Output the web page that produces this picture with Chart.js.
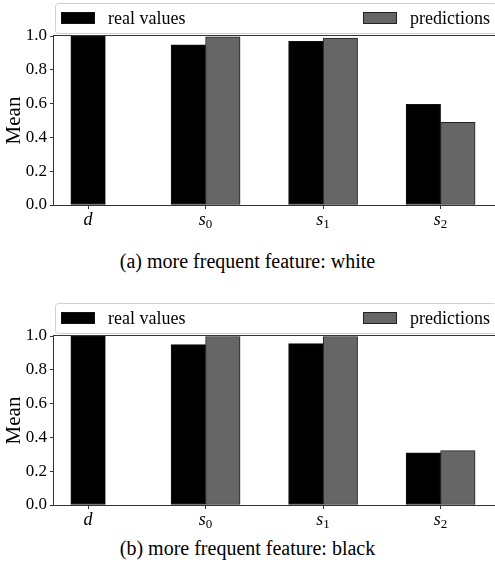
<!DOCTYPE html>
<html>
<head>
<meta charset="utf-8">
<script src="https://cdn.jsdelivr.net/npm/chart.js@4.4.1/dist/chart.umd.min.js"></script>
<style>
  html, body { margin: 0; padding: 0; background: #fff; }
  body { width: 495px; height: 571px; overflow: hidden; position: relative; }
  .fig { position: absolute; left: 0; width: 500px; height: 235px; }
  .caption { position: absolute; left: 0; width: 495px; text-align: center;
             font-family: "Liberation Serif", serif; font-size: 20px; line-height: 22px; color: #000; }
</style>
</head>
<body>
<div class="fig" style="top:0"><canvas id="chartWhite" width="500" height="235"></canvas></div>
<div class="caption" style="top:250px">(a) more frequent feature: white</div>
<div class="fig" style="top:300px"><canvas id="chartBlack" width="500" height="235"></canvas></div>
<div class="caption" style="top:537px">(b) more frequent feature: black</div>
<script>
// x categories and legend names
const categories = ['d', 's₀', 's₁', 's₂'];
const seriesNames = ['real values', 'predictions'];

// (a) more frequent feature: white
const whiteReal = [1.0, 0.948, 0.969, 0.595];
const whitePred = [null, 0.995, 0.988, 0.489];

// (b) more frequent feature: black
const blackReal = [1.0, 0.949, 0.955, 0.308];
const blackPred = [null, 0.997, 0.997, 0.322];

const yTicks = [0.0, 0.2, 0.4, 0.6, 0.8, 1.0];

const serif = 'Liberation Serif';

// axes frame (spines) on top of the bars
const framePlugin = {
  id: 'frame',
  afterDatasetsDraw(chart) {
    const { ctx, chartArea: a } = chart;
    ctx.save();
    ctx.strokeStyle = '#333';
    ctx.lineWidth = 1;
    ctx.strokeRect(Math.round(a.left) - 0.5, Math.round(a.top) - 0.5,
                   Math.round(a.right - a.left) + 1, Math.round(a.bottom - a.top) + 1);
    ctx.restore();
  }
};

// x labels: italic letter with an upright, lowered subscript digit
const mathLabels = {
  id: 'mathLabels',
  afterDraw(chart) {
    const { ctx, chartArea: a } = chart;
    const xs = chart.scales.x;
    const y = a.bottom + 20;
    ctx.save();
    ctx.fillStyle = '#000';
    ctx.textBaseline = 'alphabetic';
    xs.ticks.forEach((t) => {
      const lbl = categories[t.value];
      const last = lbl.charCodeAt(lbl.length - 1);
      let main = lbl, sub = '';
      if (last >= 0x2080 && last <= 0x2089) {
        main = lbl.slice(0, -1);
        sub = String.fromCharCode(last - 0x2080 + 48);
      }
      ctx.font = 'italic 18px "' + serif + '"';
      const wm = ctx.measureText(main).width;
      ctx.font = '13px "' + serif + '"';
      const ws = sub ? ctx.measureText(sub).width : 0;
      const x0 = xs.getPixelForValue(t.value) - (wm + ws) / 2;
      ctx.font = 'italic 18px "' + serif + '"';
      ctx.fillText(main, x0, y);
      if (sub) {
        ctx.font = '13px "' + serif + '"';
        ctx.fillText(sub, x0 + wm, y + 3);
      }
    });
    ctx.restore();
  }
};

// legend box above the axes, two columns spread over the full width
const boxLegend = {
  id: 'boxLegend',
  afterDraw(chart) {
    const { ctx, chartArea: a } = chart;
    const top = 3, h = 30, mid = top + h / 2;
    ctx.save();
    ctx.beginPath();
    ctx.roundRect(a.left + 1.5, top + 0.5, a.right - a.left - 2, h, 3);
    ctx.fillStyle = 'rgba(255,255,255,0.8)';
    ctx.fill();
    ctx.strokeStyle = '#d0d0d0';
    ctx.lineWidth = 1;
    ctx.stroke();
    ctx.font = '18px "' + serif + '"';
    ctx.textBaseline = 'middle';
    const ds = chart.data.datasets;
    const w2 = ctx.measureText(ds[1].label).width;
    const xs = [a.left + 7, a.right - 7 - w2 - 13 - 34];
    ds.forEach((d, i) => {
      ctx.fillStyle = d.backgroundColor;
      ctx.fillRect(xs[i], mid - 6, 34, 12);
      ctx.strokeStyle = d.borderColor;
      ctx.strokeRect(xs[i] + 0.5, mid - 5.5, 33, 11);
      ctx.fillStyle = '#000';
      ctx.fillText(d.label, xs[i] + 47, mid + 1);
    });
    ctx.restore();
  }
};

function makeChart(id, real, pred) {
  return new Chart(document.getElementById(id), {
    type: 'bar',
    data: {
      datasets: [
        {
          label: seriesNames[0],
          data: real.map((v, i) => ({ x: i, y: v })),
          backgroundColor: '#000000',
          borderColor: '#111111'
        },
        {
          label: seriesNames[1],
          data: pred.map((v, i) => ({ x: i, y: v })),
          backgroundColor: '#666666',
          borderColor: '#222222'
        }
      ]
    },
    options: {
      responsive: false,
      animation: false,
      layout: { padding: { top: 36, right: 3, left: 0, bottom: 0 } },
      datasets: { bar: { barThickness: 34.5, skipNull: true, borderWidth: 1, borderSkipped: false } },
      plugins: { legend: { display: false }, tooltip: { enabled: false } },
      scales: {
        x: {
          type: 'linear',
          min: -0.29,
          max: 3.48,
          offset: false,
          afterBuildTicks: (s) => { s.ticks = categories.map((c, i) => ({ value: i })); },
          afterFit: (s) => { s.height = 30; },
          grid: { offset: false, drawOnChartArea: false, tickLength: 4, color: '#333' },
          border: { display: false },
          ticks: { display: false, callback: (v) => categories[v] }
        },
        y: {
          min: 0,
          max: 1,
          afterBuildTicks: (s) => { s.ticks = yTicks.map((v) => ({ value: v })); },
          afterFit: (s) => { s.width = 54; },
          grid: { drawOnChartArea: false, tickLength: 4, color: '#333' },
          border: { display: false },
          title: {
            display: true, text: 'Mean', color: '#000',
            font: { family: serif, size: 21 }, padding: { top: 2, bottom: 0 }
          },
          ticks: {
            callback: (v) => v.toFixed(1),
            color: '#000', padding: 3,
            font: { family: serif, size: 17 }
          }
        }
      }
    },
    plugins: [framePlugin, mathLabels, boxLegend]
  });
}

const whiteChart = makeChart('chartWhite', whiteReal, whitePred);
const blackChart = makeChart('chartBlack', blackReal, blackPred);
</script>
</body>
</html>
